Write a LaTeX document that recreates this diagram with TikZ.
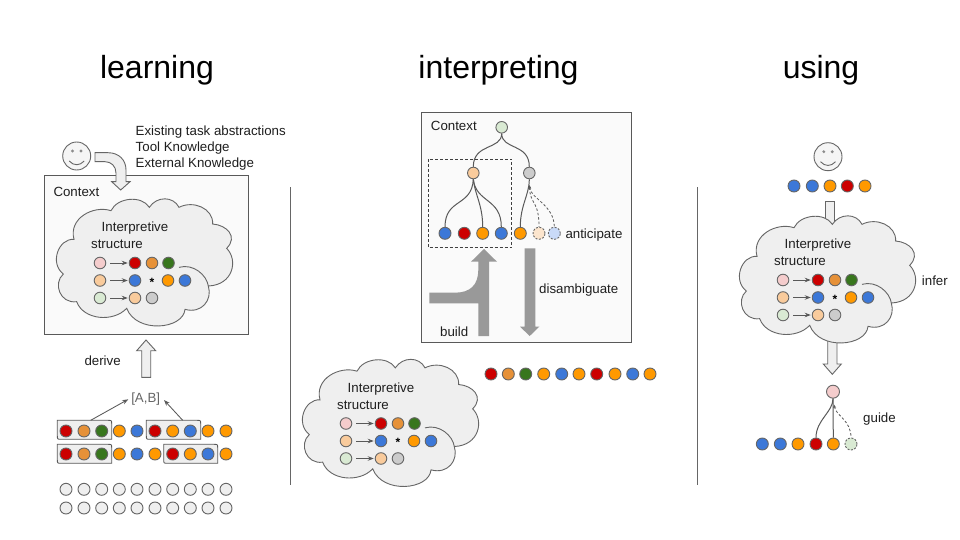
\documentclass[tikz,border=0pt]{standalone}
\usepackage{fontspec}
\setmainfont{Liberation Sans}
\usetikzlibrary{arrows.meta}
\definecolor{cred}{HTML}{CC0000}
\definecolor{cbrown}{HTML}{E69138}
\definecolor{cgreen}{HTML}{38761D}
\definecolor{corange}{HTML}{FF9900}
\definecolor{cblue}{HTML}{3C78D8}
\definecolor{cpink}{HTML}{F4CCCC}
\definecolor{cpeach}{HTML}{F9CB9C}
\definecolor{cpale}{HTML}{D9EAD3}
\definecolor{cgray}{HTML}{CCCCCC}
\definecolor{clight}{HTML}{EFEFEF}
\definecolor{cedge}{HTML}{666666}
\definecolor{cdark}{HTML}{595959}
\definecolor{cbig}{HTML}{999999}
\definecolor{cpeachl}{HTML}{FCE5CD}
\definecolor{cbluel}{HTML}{C9DAF8}
\tikzset{
  dot/.style={circle,draw=cedge,line width=0.9pt,minimum size=11.6pt,inner sep=0pt},
  ldot/.style={dot,minimum size=12pt},
  dashdot/.style={ldot,dashed,dash pattern=on 2pt off 1.5pt},
  lab/.style={inner sep=0pt,font=\fontsize{13.3}{15}\selectfont,text=black!88},
  llab/.style={lab,anchor=mid west,yshift=-2.5pt},
  title/.style={inner sep=0pt,font=\fontsize{32}{36}\selectfont,anchor=base},
  flow/.style={draw=cdark,line width=0.85pt,-{Stealth[length=6pt,width=4.5pt]}},
  tree/.style={draw=cdark,line width=1pt},
  treed/.style={draw=cdark,line width=0.8pt,dashed,dash pattern=on 2.5pt off 2pt,{Stealth[length=3.5pt,width=3pt]}-,shorten <=6pt},
  panel/.style={draw=cdark,fill=black!2,line width=0.9pt},
  blocka/.style={draw=cedge,fill=clight,line width=0.9pt},
  bigarrow/.style={fill=cbig,draw=none},
  cloudshape/.style={draw=cedge,fill=clight,line width=0.9pt},
  rowbox/.style={draw=cdark,fill=clight,line width=0.85pt},
  face/.style={circle,draw=cedge,fill=clight!60,line width=0.9pt,minimum size=28pt,inner sep=0pt},
  divider/.style={draw=cedge,line width=0.8pt},
}
\newcommand{\cloudblock}[3]{%
\begin{scope}[shift={(#1,#2)}]
\begin{scope}[shift={(30,120)},x=0.33333pt,y=-0.33333pt]
\draw[cloudshape] (132,358) .. controls (115,295) and (190,255) .. (243,272)
 .. controls (262,232) and (335,225) .. (358,262)
 .. controls (380,228) and (430,228) .. (447,262)
 .. controls (490,240) and (550,265) .. (548,312)
 .. controls (590,315) and (625,350) .. (590,385)
 .. controls (625,420) and (610,495) .. (535,498)
 .. controls (548,540) and (515,582) .. (465,568)
 .. controls (460,628) and (320,642) .. (290,565)
 .. controls (250,608) and (160,600) .. (140,545)
 .. controls (90,552) and (68,490) .. (100,462)
 .. controls (58,430) and (85,355) .. (132,358) -- cycle;
\draw[cloudshape,fill=none] (535,498) .. controls (530,465) and (490,430) .. (447,442);
\end{scope}
\node[lab,anchor=center] (#3in) at (135,228.5) {Interpretive};
\node[lab,anchor=center] (#3st) at (117,244.5) {structure};
\node[dot,fill=cpink] (#3a) at (100,263) {};
\node[dot,fill=cred] (#3a1) at (135,263) {};
\node[dot,fill=cbrown] (#3a2) at (152,263) {};
\node[dot,fill=cgreen] (#3a3) at (168.5,263) {};
\node[dot,fill=cpeach] (#3b) at (100,280.5) {};
\node[dot,fill=cblue] (#3b1) at (135,280.5) {};
\node[inner sep=0pt,font=\fontsize{12}{12}\selectfont\bfseries] (#3b2) at (152,282) {*};
\node[dot,fill=corange] (#3b3) at (168,280.5) {};
\node[dot,fill=cblue] (#3b4) at (185,280.5) {};
\node[dot,fill=cpale] (#3c) at (100,298) {};
\node[dot,fill=cpeach] (#3c1) at (135,298) {};
\node[dot,fill=cgray] (#3c2) at (152,298) {};
\draw[flow,shorten <=4pt,shorten >=1pt] (#3a) -- (#3a1);
\draw[flow,shorten <=4pt,shorten >=1pt] (#3b) -- (#3b1);
\draw[flow,shorten <=4pt,shorten >=1pt] (#3c) -- (#3c1);
\end{scope}}
\newcommand{\smiley}[3]{%
\node[face] (#3) at (#1,#2) {};
\fill[black!45] (#1-4.2,#2-5) circle (1.6pt) (#1+4.2,#2-5) circle (1.6pt);
\draw[cedge,line width=0.9pt] (#1-7.5,#2+5) .. controls (#1-3,#2+10) and (#1+3,#2+10) .. (#1+7.5,#2+5);}
\newcommand{\seqbox}[4]{%
\draw[rowbox] (#1,#2) -- (#3-4,#2) .. controls (#3,#2) .. (#3,#2+4) -- (#3,#4) -- (#1+4,#4) .. controls (#1,#4) .. (#1,#4-4) -- cycle;}
\begin{document}
\begin{tikzpicture}[x=1pt,y=-1pt]
\useasboundingbox (0,0) rectangle (960,540);
\fill[white] (0,0) rectangle (960,540);
% titles
\node[title] (t1) at (157,79) {learning};
\node[title] (t2) at (498.5,79) {interpreting};
\node[title] (t3) at (821,79) {using};
% dividers
\coordinate (d1a) at (290.5,187); \coordinate (d1b) at (290.5,485);
\coordinate (d2a) at (697,187); \coordinate (d2b) at (697,485);
\draw[divider] (d1a) -- (d1b);
\draw[divider] (d2a) -- (d2b);
% ---------- learning
\draw[panel] (44.3,175.7) rectangle (248,334);
\node[llab] (ctx1) at (53.3,191) {Context};
\smiley{76.7}{156}{face1}
\node[llab] (k1) at (135.5,130) {Existing task abstractions};
\node[llab] (k2) at (135.5,146) {Tool Knowledge};
\node[llab] (k3) at (135.5,162) {External Knowledge};
\draw[blocka] (95,152.7) -- (108,152.7) .. controls (119,152.7) and (126,160) .. (126,170) -- (126,181.7) -- (130,181.7) -- (120.7,190) -- (111.7,181.7) -- (116,181.7) -- (116,173) .. controls (116,166) and (111,161.7) .. (105,161.7) -- (95,161.7) -- cycle;
\cloudblock{0}{0}{p}
\draw[blocka] (146,340) -- (155.7,350.7) -- (150.7,350.7) -- (150.7,377.3) -- (141.7,377.3) -- (141.7,350.7) -- (136.7,350.7) -- cycle;
\node[llab] (der) at (84.3,360.7) {derive};
\node[lab,text=cedge] (ab) at (145.7,399) {[A,B]};
\seqbox{57.3}{420.3}{111.7}{439.3}
\seqbox{146.3}{420.3}{200.7}{439.3}
\seqbox{57.3}{444.3}{111.7}{463.3}
\seqbox{163.7}{444.3}{217.7}{463.3}
\coordinate (s1) at (90.7,420.3);
\coordinate (s2) at (182.7,420.3);
\coordinate (e1) at (128.3,399.3);
\coordinate (e2) at (164,400);
\draw[flow] (s1) -- (e1);
\draw[flow] (s2) -- (e2);
\foreach \xx/\cc [count=\i] in {66/cred,84/cbrown,101.7/cgreen,119.3/corange,137/cblue,155/cred,172.7/corange,190.3/cblue,208/corange,226/corange}
  \node[ldot,fill=\cc] (ra\i) at (\xx,431) {};
\foreach \xx/\cc [count=\i] in {66/cred,84/cbrown,101.7/cgreen,119.3/corange,137/cblue,155/corange,172.7/cred,190.3/corange,208/cblue,226/corange}
  \node[ldot,fill=\cc] (rb\i) at (\xx,454) {};
\foreach \xx [count=\i] in {66,84,101.7,119.3,137,155,172.7,190.3,208,226}{
  \node[ldot,fill=clight] (rc\i) at (\xx,489.3) {};
  \node[ldot,fill=clight] (rd\i) at (\xx,508) {};
}
% ---------- interpreting
\draw[panel] (421.7,112.3) rectangle (631,342);
\node[llab] (ctx2) at (430.7,125) {Context};
\node[dot,fill=cpale] (root) at (501.7,127.3) {};
\node[dot,fill=cpeach] (nl) at (473.3,173) {};
\node[dot,fill=cgray] (nr) at (529.3,173) {};
\node[ldot,fill=cblue] (l1) at (445,233.3) {};
\node[ldot,fill=cred] (l2) at (464.3,233.3) {};
\node[ldot,fill=corange] (l3) at (482.7,233.3) {};
\node[ldot,fill=cblue] (l4) at (501.3,233.3) {};
\node[ldot,fill=corange] (l5) at (520.3,233.3) {};
\node[dashdot,fill=cpeachl] (l6) at (539,233.3) {};
\node[dashdot,fill=cbluel] (l7) at (554.3,233.3) {};
\draw[tree] (root.south) .. controls (501.7,150) and (473.3,143) .. (nl.north);
\draw[tree] (root.south) .. controls (501.7,150) and (529.3,143) .. (nr.north);
\draw[tree] (nl.south) .. controls (472,207) and (445,198) .. (l1.north);
\draw[tree] (nl.south) .. controls (475,195) and (482.7,205) .. (l3.north);
\draw[tree] (nl.south) .. controls (476,203) and (501.3,198) .. (l4.north);
\draw[tree] (nr.south) .. controls (529.3,195) and (520.3,205) .. (l5.north);
\draw[treed] (nr.south) .. controls (530,205) and (539,200) .. (l6.north);
\draw[treed] (nr.south) .. controls (530,198) and (554.3,205) .. (l7.north);
\draw[draw=black!75,line width=0.8pt,dashed,dash pattern=on 3pt off 2pt] (428.3,159) rectangle (511.7,247.7);
\node[llab] (ant) at (565.3,233) {anticipate};
\fill[bigarrow] (429.3,292.7) -- (455,292.7) .. controls (470,292.7) and (478.3,285) .. (478.3,270) -- (478.3,261.7) -- (471,261.7) -- (484,249) -- (497,261.7) -- (489,261.7) -- (489,336) -- (478.3,336) -- (478.3,303.3) -- (429.3,303.3) -- cycle;
\fill[bigarrow] (524.7,248.3) -- (535.3,248.3) -- (535.3,326.7) -- (539.3,326.7) -- (529.7,336) -- (520,326.7) -- (524.7,326.7) -- cycle;
\node[llab] (dis) at (539,288.7) {disambiguate};
\node[llab] (bld) at (440,331.7) {build};
\cloudblock{246}{160.5}{q}
\foreach \xx/\cc [count=\i] in {491/cred,508.3/cbrown,525.7/cgreen,543.7/corange,561.7/cblue,579/corange,596.7/cred,615/corange,632.7/cblue,650/corange}
  \node[ldot,fill=\cc] (sq\i) at (\xx,374) {};
% ---------- using
\smiley{828}{156.7}{face2}
\foreach \xx/\cc [count=\i] in {794/cblue,812.3/cblue,830/corange,847.3/cred,865/corange}
  \node[ldot,fill=\cc] (u\i) at (\xx,186) {};
\draw[blocka] (825.3,201.3) rectangle (834.7,235);
\draw[blocka] (827.7,330) -- (837,330) -- (837,364) -- (841.3,364) -- (832.3,374.3) -- (823.3,364) -- (827.7,364) -- cycle;
\cloudblock{683}{17}{r}
\node[llab] (inf) at (921.7,280) {infer};
\node[ldot,minimum size=13pt,fill=cpink] (top) at (833,391.7) {};
\node[ldot,fill=cblue] (v1) at (762.3,444) {};
\node[ldot,fill=cblue] (v2) at (780.3,444) {};
\node[ldot,fill=corange] (v3) at (798,444) {};
\node[ldot,fill=cred] (v4) at (816,444) {};
\node[ldot,fill=corange] (v5) at (833.3,444) {};
\node[dashdot,fill=cpale] (v6) at (851,444) {};
\draw[tree] (top.south) .. controls (833,412) and (816,420) .. (v4.north);
\draw[tree] (top.south) -- (v5.north);
\draw[treed] (top.south) .. controls (836,416) and (851,420) .. (v6.north);
\node[llab] (gui) at (863,417) {guide};
\end{tikzpicture}
\end{document}
